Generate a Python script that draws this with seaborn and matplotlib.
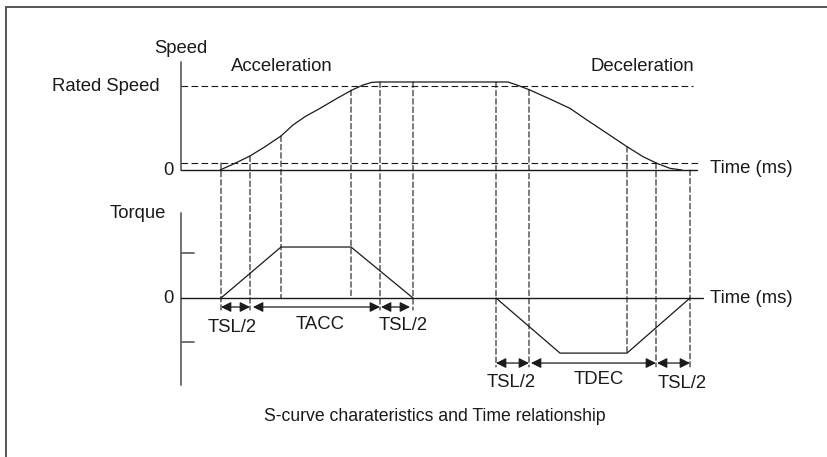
import matplotlib
matplotlib.use("Agg")
import matplotlib.pyplot as plt
from matplotlib.patches import ConnectionPatch, Rectangle
import seaborn as sns
import pandas as pd

sns.set_theme(style="white")
plt.rcParams["font.family"] = ["Liberation Sans", "DejaVu Sans"]

# ---- data (time in ms, speed as fraction of rated speed, torque normalised) ----
accel_time = [-1, 14, 29, 44, 60, 72, 84, 99, 116, 131, 142, 151, 159]
accel_speed = [0, 0.080, 0.167, 0.277, 0.405, 0.536, 0.635, 0.734, 0.853,
               0.952, 1.012, 1.044, 1.048]
decel_time = [287, 296, 309, 329, 349, 366, 386, 406, 422, 436, 449, 461]
decel_speed = [1.048, 1.012, 0.952, 0.845, 0.734, 0.595, 0.437, 0.278,
               0.159, 0.079, 0.020, 0]

torque_time = [0, 60, 130, 192, 275, 339, 406, 469]
torque_value = [0, 1.0, 1.0, 0, 0, -1.08, -1.08, 0]
torque_phase = ["acc", "acc", "acc", "acc", "dec", "dec", "dec", "dec"]

rated_speed = 1.0
speed_window = 0.083
torque_ticks = [0.88, -0.86]

# guide lines: time, top speed value, bottom torque value
guide_time = [0, 29, 60, 130, 159, 192, 275, 308, 406, 435, 469]
guide_top = [0.083, 0.167, 0.405, 0.952, 1.048, 1.048, 1.048, 0.952, 0.278, 0.083, 0]
guide_bottom = [-0.235, -0.235, 0, 0, -0.235, -0.235, -1.35, -1.35, -1.08, -1.35, -1.35]

# interval arrows: start, end, level, label, label x, label y
interval_start = [0, 32, 160, 275, 310, 436]
interval_end = [29, 159, 189, 308, 435, 469]
interval_level = [-0.176, -0.176, -0.176, -1.275, -1.275, -1.275]
interval_label = ["TSL/2", "TACC", "TSL/2", "TSL/2", "TDEC", "TSL/2"]
label_x = [11, 99, 182, 290, 378, 461]
label_y = [-0.57, -0.51, -0.53, -1.65, -1.59, -1.67]

speed_df = pd.DataFrame({
    "time": accel_time + decel_time,
    "speed": accel_speed + decel_speed,
})
torque_df = pd.DataFrame({"time": torque_time, "torque": torque_value,
                          "phase": torque_phase})

INK = "#1a1a1a"
AXIS = "#666666"
FS = 13.3

fig = plt.figure(figsize=(8.28, 4.57), dpi=100)
fig.patch.set_facecolor("white")

# outer frame (continues past the right and bottom edges)
fig.add_artist(Rectangle((6 / 828, -0.2), 1.2, 1 - 7 / 457 + 0.2,
                         transform=fig.transFigure, fill=False,
                         ec="#555555", lw=1.4))

ax_s = fig.add_axes([0, (457 - 200) / 457, 1, 170 / 457])
ax_t = fig.add_axes([0, (457 - 440) / 457, 1, 240 / 457])
for ax in (ax_s, ax_t):
    ax.set_xlim(-221, 607)
    ax.axis("off")
ax_s.set_ylim(-0.357, 1.667)
ax_t.set_ylim(-2.784, 1.922)

# ---- speed panel ----
ax_s.plot([-40, -40], [0, 1.286], color=AXIS, lw=1.3)
ax_s.plot([-40, 476], [0, 0], color=INK, lw=1.0)
ax_s.plot([-40, 472], [rated_speed, rated_speed], color=INK, lw=0.8,
          ls=(0, (6, 3)))
ax_s.plot([-40, 477], [speed_window, speed_window], color=INK, lw=0.8,
          ls=(0, (6, 3)))
sns.lineplot(data=speed_df, x="time", y="speed", ax=ax_s, color=INK,
             lw=0.9, sort=False, estimator=None)
ax_s.set_xlabel("")
ax_s.set_ylabel("")

ax_s.text(-40, 1.452, "Speed", ha="center", va="center", fontsize=FS, color=INK)
ax_s.text(61, 1.238, "Acceleration", ha="center", va="center", fontsize=FS, color=INK)
ax_s.text(421, 1.238, "Deceleration", ha="center", va="center", fontsize=FS, color=INK)
ax_s.text(-61, 1.0, "Rated Speed", ha="right", va="center", fontsize=FS, color=INK)
ax_s.text(-47, 0, "0", ha="right", va="center", fontsize=FS, color=INK)
ax_s.text(489, 0.02, "Time (ms)", ha="left", va="center", fontsize=FS, color=INK)

# ---- torque panel ----
ax_t.plot([-40, -40], [-1.706, 1.667], color=AXIS, lw=1.3)
for tk in torque_ticks:
    ax_t.plot([-40, -27], [tk, tk], color=AXIS, lw=1.3)
ax_t.plot([-40, 482], [0, 0], color=INK, lw=1.0)
sns.lineplot(data=torque_df, x="time", y="torque", units="phase", ax=ax_t,
             color=INK, lw=0.9, sort=False, estimator=None)
ax_t.set_xlabel("")
ax_t.set_ylabel("")

ax_t.text(-55, 1.667, "Torque", ha="right", va="center", fontsize=FS, color=INK)
ax_t.text(-47, 0, "0", ha="right", va="center", fontsize=FS, color=INK)
ax_t.text(489, 0, "Time (ms)", ha="left", va="center", fontsize=FS, color=INK)

# vertical guide lines linking both panels
for t, top, bot in zip(guide_time, guide_top, guide_bottom):
    con = ConnectionPatch(xyA=(t, top), coordsA="data", axesA=ax_s,
                          xyB=(t, bot), coordsB="data", axesB=ax_t,
                          color=INK, lw=0.8, ls=(0, (5, 2.5)))
    fig.add_artist(con)

# interval arrows with labels
for x0, x1, lv, lab, lx, ly in zip(interval_start, interval_end, interval_level,
                                   interval_label, label_x, label_y):
    ax_t.annotate("", xy=(x1, lv), xytext=(x0, lv),
                  arrowprops=dict(arrowstyle="<|-|>,head_length=0.6,head_width=0.3",
                                  color=INK, lw=0.9, shrinkA=0, shrinkB=0,
                                  mutation_scale=10))
    ax_t.text(lx, ly, lab, ha="center", va="center", fontsize=FS, color=INK)

ax_t.text(214, -2.333, "S-curve charateristics and Time relationship",
          ha="center", va="center", fontsize=FS - 0.6, color=INK)

fig.savefig("out.png", dpi=100, facecolor="white")
